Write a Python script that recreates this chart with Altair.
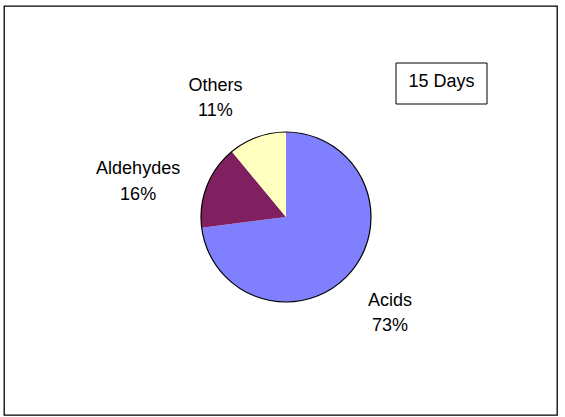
import altair as alt
import pandas as pd

categories = ["Acids", "Aldehydes", "Others"]
values = [73, 16, 11]
colors = ["#8080FF", "#802060", "#FFFFC0"]
title_text = "15 Days"

df = pd.DataFrame({"cat": categories, "value": values, "idx": list(range(len(categories)))})

CX, CY, R = 282, 211, 85
FONT = "Liberation Sans"

base = alt.Chart(df).encode(
    theta=alt.Theta("value:Q", stack=True),
    order=alt.Order("idx:Q", sort="ascending"),
    x=alt.value(CX),
    y=alt.value(CY),
)

slices = base.mark_arc(radius=R).encode(
    color=alt.Color("cat:N", scale=alt.Scale(domain=categories, range=colors), legend=None)
)

outline = alt.Chart(df.head(1)).mark_arc(
    radius=R, theta=0, theta2=6.2832, stroke="black", strokeWidth=1.2, fillOpacity=0
).encode(x=alt.value(CX), y=alt.value(CY))

offsets = {"Acids": (6.5, 3), "Aldehydes": (-27, 5), "Others": (-26.5, -4)}
label_layers = []
for c in categories:
    dx, dy = offsets[c]
    label_layers.append(
        base.transform_calculate(label="[datum.cat, datum.value + '%']")
        .mark_text(radius=130, dx=dx, dy=dy, font=FONT, fontSize=18, lineHeight=25.5,
                   align="center", baseline="alphabetic", color="black")
        .encode(text="label:N", opacity=alt.condition(alt.datum.cat == c, alt.value(1), alt.value(0)))
    )

box = alt.Chart(df.head(1)).mark_rect(fill="white", stroke="black", strokeWidth=1).encode(
    x=alt.value(392), x2=alt.value(483), y=alt.value(57), y2=alt.value(98)
)
box_text = alt.Chart(pd.DataFrame({"t": [title_text]})).mark_text(
    font=FONT, fontSize=18, align="center", baseline="alphabetic", color="black"
).encode(text="t:N", x=alt.value(437.5), y=alt.value(81.3))

chart = alt.layer(slices, outline, *label_layers, box, box_text).properties(
    width=553, height=409,
    padding={"left": 4, "top": 6, "right": 8, "bottom": 2},
    autosize=alt.AutoSizeParams(type="none"),
    background="white",
).configure_view(stroke="black", strokeWidth=1.3)

chart.save("out.html", embed_options={"renderer": "svg", "actions": False})
